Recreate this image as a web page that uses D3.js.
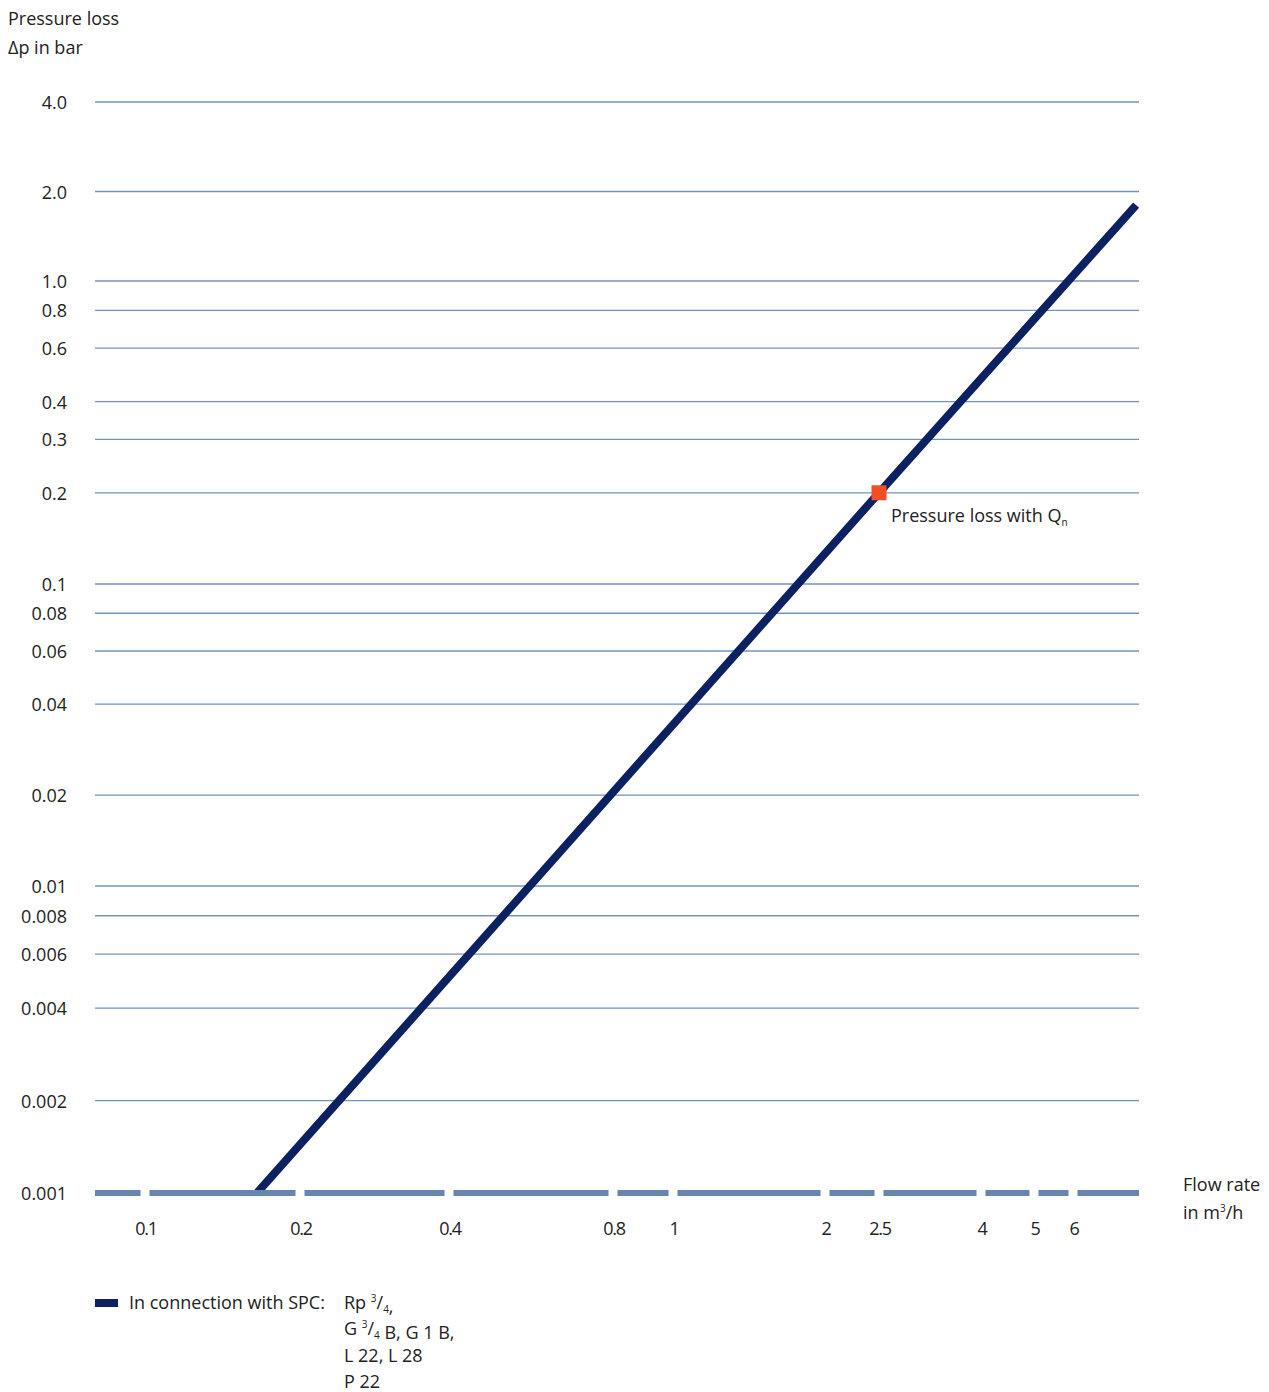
<!DOCTYPE html>
<html>
<head>
<meta charset="utf-8">
<script src="https://cdn.jsdelivr.net/npm/d3@7"></script>
<style>
  html, body { margin: 0; padding: 0; background: #fff; }
  svg text { font-family: "Open Sans", "DejaVu Sans", sans-serif; fill: #222; }
</style>
</head>
<body>
<svg id="chart" width="1269" height="1392"></svg>
<script>
// Pressure loss curve (flow rate in m³/h vs. pressure loss in bar)
const flowRate = [0.165, 2.5, 7.9];
const pressureLoss = [0.001, 0.2, 1.8];

// Rated-flow point
const ratedFlow = 2.5;
const ratedLoss = 0.2;

// Y gridlines / tick labels
const yTickValues = [4, 2, 1, 0.8, 0.6, 0.4, 0.3, 0.2, 0.1, 0.08, 0.06, 0.04, 0.02, 0.01, 0.008, 0.006, 0.004, 0.002];
const yTickLabels = ["4.0", "2.0", "1.0", "0.8", "0.6", "0.4", "0.3", "0.2", "0.1", "0.08", "0.06", "0.04", "0.02", "0.01", "0.008", "0.006", "0.004", "0.002"];
const yBase = 0.001;
const yBaseLabel = "0.001";

// X tick labels
const xTickValues = [0.1, 0.2, 0.4, 0.8, 1, 2, 2.5, 4, 5, 6];
const xTickLabels = ["0.1", "0.2", "0.4", "0.8", "1", "2", "2.5", "4", "5", "6"];

const NAVY = "#0b2161";
const GRID = "#7392bc";
const AXIS = "#6686b0";
const MARK = "#f04e23";

const svg = d3.select("#chart");
const plotLeft = 95, plotRight = 1139;

// Log scales, laid out piecewise to the printed grid of the diagram sheet
const x = d3.scaleLog()
  .domain([0.08, 0.1, 0.2, 0.4, 0.8, 1, 2, 2.5, 4, 5, 6, 8])
  .range([plotLeft, 145, 300, 449, 613, 673, 825, 879, 981, 1034, 1073, plotRight]);
const y = d3.scaleLog()
  .domain([yBase, 0.01, 0.1, 1, 4])
  .range([1193, 886, 584, 281, 102]);

// Horizontal gridlines
svg.append("g").selectAll("line")
  .data(yTickValues)
  .join("line")
  .attr("x1", plotLeft).attr("x2", plotRight)
  .attr("y1", d => y(d)).attr("y2", d => y(d))
  .attr("stroke", GRID).attr("stroke-width", 1.3);

// Y tick labels
svg.append("g").selectAll("text")
  .data(yTickValues.concat([yBase]))
  .join("text")
  .attr("x", 67)
  .attr("y", d => y(d) + 7)
  .attr("text-anchor", "end")
  .attr("font-size", 18)
  .text((d, i) => i < yTickLabels.length ? yTickLabels[i] : yBaseLabel);

// Curve, clipped at the baseline
svg.append("clipPath").attr("id", "plotClip")
  .append("rect").attr("x", 0).attr("y", 0).attr("width", 1269).attr("height", y(yBase) - 2);

const curve = flowRate.map((q, i) => [q, pressureLoss[i]]);
const extendDown = [flowRate[0] * 0.97, yBase * Math.pow(0.97, 1.93)];
svg.append("path")
  .datum([extendDown].concat(curve))
  .attr("clip-path", "url(#plotClip)")
  .attr("fill", "none")
  .attr("stroke", NAVY)
  .attr("stroke-width", 8)
  .attr("stroke-linecap", "butt")
  .attr("stroke-linejoin", "round")
  .attr("d", d3.line().x(d => x(d[0])).y(d => y(d[1])));

// Baseline broken at each flow-rate tick
const gap = 4.5;
const tx = xTickValues.map(v => x(v));
const segs = [];
let segStart = plotLeft;
tx.forEach(p => { segs.push([segStart, p - gap]); segStart = p + gap; });
segs.push([segStart, plotRight]);
svg.append("g").selectAll("line")
  .data(segs)
  .join("line")
  .attr("x1", d => d[0]).attr("x2", d => d[1])
  .attr("y1", y(yBase)).attr("y2", y(yBase))
  .attr("stroke", AXIS).attr("stroke-width", 6);

// X tick labels
svg.append("g").selectAll("text")
  .data(xTickValues)
  .join("text")
  .attr("x", d => x(d) + 1)
  .attr("y", 1235)
  .attr("text-anchor", "middle")
  .attr("font-size", 18)
  .attr("letter-spacing", -1.2)
  .text((d, i) => xTickLabels[i]);

// Rated-flow marker
svg.append("rect")
  .attr("x", x(ratedFlow) - 7.5).attr("y", y(ratedLoss) - 7.5)
  .attr("width", 15).attr("height", 15)
  .attr("fill", MARK);

const qLabel = svg.append("text")
  .attr("x", x(ratedFlow) + 12).attr("y", 522)
  .attr("font-size", 18);
qLabel.append("tspan").text("Pressure loss with Q");
qLabel.append("tspan").attr("font-size", 10).attr("dy", 4).text("n");

// Axis titles
svg.append("text").attr("x", 8).attr("y", 25).attr("font-size", 18).text("Pressure loss");
svg.append("text").attr("x", 8).attr("y", 54).attr("font-size", 18).text("Δp in bar");

svg.append("text").attr("x", 1183).attr("y", 1191).attr("font-size", 18).text("Flow rate");
const unit = svg.append("text").attr("x", 1183).attr("y", 1219).attr("font-size", 18);
unit.append("tspan").text("in m");
unit.append("tspan").attr("font-size", 10).attr("dy", -7).text("3");
unit.append("tspan").attr("dy", 7).text("/h");

// Legend
svg.append("rect").attr("x", 95).attr("y", 1299).attr("width", 23).attr("height", 8).attr("fill", NAVY);
svg.append("text").attr("x", 129).attr("y", 1309).attr("font-size", 18).text("In connection with SPC:");

function fraction(t) {
  t.append("tspan").attr("font-size", 10).attr("dy", -7).text("3");
  t.append("tspan").attr("dy", 7).text("/");
  t.append("tspan").attr("font-size", 10).attr("dy", 4).text("4");
  t.append("tspan").attr("dy", -4).text("");
}
const l1 = svg.append("text").attr("x", 344).attr("y", 1309).attr("font-size", 18);
l1.append("tspan").text("Rp ");
fraction(l1);
l1.append("tspan").text(",");

const l2 = svg.append("text").attr("x", 344).attr("y", 1335).attr("font-size", 18);
l2.append("tspan").text("G ");
fraction(l2);
l2.append("tspan").text(" B, G 1 B,");

svg.append("text").attr("x", 344).attr("y", 1362).attr("font-size", 18).text("L 22, L 28");
svg.append("text").attr("x", 344).attr("y", 1388).attr("font-size", 18).text("P 22");
</script>
</body>
</html>
